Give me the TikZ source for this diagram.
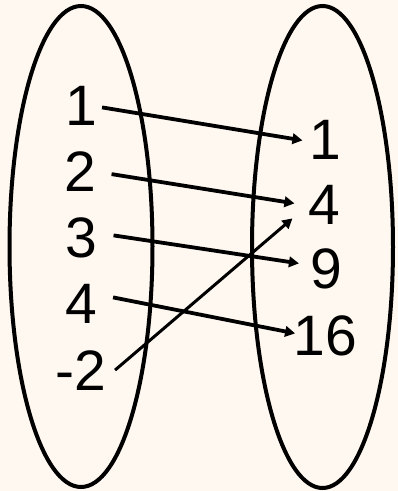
\documentclass[tikz,border=0pt]{standalone}
\usepackage{fontspec}
\setmainfont{Liberation Sans}
\usetikzlibrary{arrows.meta,shapes.geometric}
\definecolor{bgcream}{RGB}{255,248,240}
\begin{document}
\begin{tikzpicture}[x=1pt,y=-1pt,
  setoval/.style={draw,ellipse,line width=4pt,inner sep=0pt},
  num/.style={inner sep=0pt,anchor=base,font=\fontsize{57}{60}\selectfont},
  arr/.style={line width=3.8pt,-{Triangle[length=10pt,width=10.5pt]}},
  arrthin/.style={line width=3pt,-{Triangle[length=10pt,width=10.5pt]}}]
\fill[bgcream] (0,0) rectangle (398,491);
\useasboundingbox (0,0) rectangle (398,491);
\node[setoval,minimum width=143pt,minimum height=481pt] (dom) at (81,246.5) {};
\node[setoval,minimum width=141pt,minimum height=482pt] (cod) at (322.5,247) {};
\node[num] (l1) at (81,125) {1};
\node[num] (l2) at (80.5,191) {2};
\node[num] (l3) at (81.5,257) {3};
\node[num] (l4) at (81,323) {4};
\node[num] (l5) at (81,390) {-2};
\node[num] (r1) at (325.5,159) {1};
\node[num] (r2) at (324.5,224) {4};
\node[num] (r3) at (326,288) {9};
\node[num] (r4) at (325.5,355) {16};
\draw[arr] ([shift={(5,2)}]l1.east) -- ([shift={(-7,1)}]r1.west);
\draw[arr] ([shift={(15,3)}]l2.east) -- ([shift={(-14,-1)}]r2.west);
\draw[arr] ([shift={(16,-2)}]l3.east) -- ([shift={(-11,-5)}]r3.west);
\draw[arr] ([shift={(16,-6)}]l4.east) -- ([shift={(1.5,-2)}]r4.west);
\draw[arrthin] ([shift={(8.5,0)}]l5.east) -- ([shift={(-16,14)}]r2.west);
\end{tikzpicture}
\end{document}
